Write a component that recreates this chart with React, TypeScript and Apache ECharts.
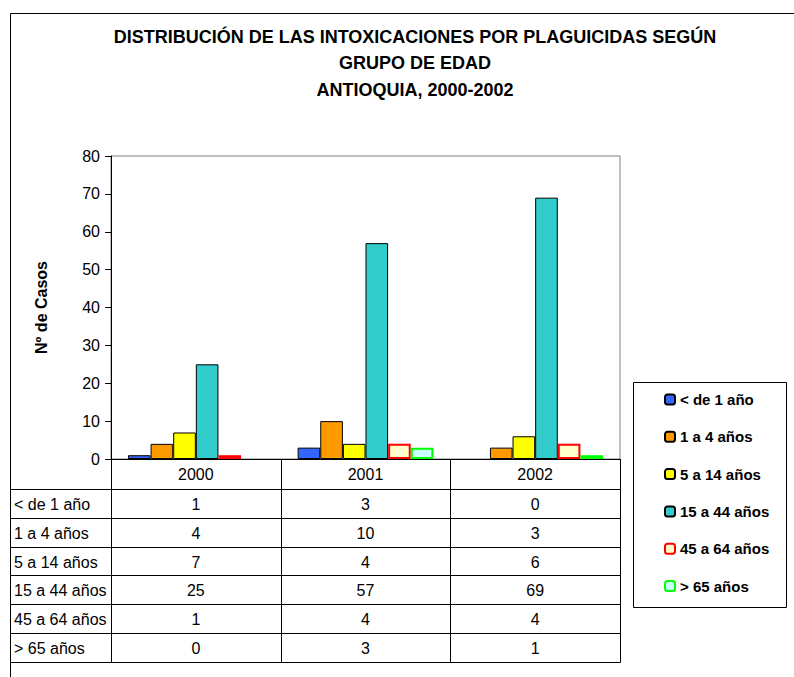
import React, { useEffect, useRef } from 'react';
import * as echarts from 'echarts';

// ---- data ----
const years = ['2000', '2001', '2002'];
const groupNames = ['< de 1 año', '1 a 4 años', '5 a 14 años', '15 a 44 años', '45 a 64 años', '> 65 años'];
const menosDe1 = [1, 3, 0];
const de1a4 = [4, 10, 3];
const de5a14 = [7, 4, 6];
const de15a44 = [25, 57, 69];
const de45a64 = [1, 4, 4];
const mayor65 = [0, 3, 1];
const yMin = 0;
const yMax = 80;
const yInterval = 10;
const titleLines = ['DISTRIBUCIÓN DE LAS INTOXICACIONES POR PLAGUICIDAS SEGÚN', 'GRUPO DE EDAD', 'ANTIOQUIA, 2000-2002'];
const yAxisTitle = 'Nº de Casos';

const seriesValues = [menosDe1, de1a4, de5a14, de15a44, de45a64, mayor65];

// ---- styles ----
const seriesStyles = [
  { color: '#3366FF', borderColor: '#000000', borderWidth: 1 },
  { color: '#FF9900', borderColor: '#000000', borderWidth: 1 },
  { color: '#FFFF00', borderColor: '#000000', borderWidth: 1 },
  { color: '#33CCCC', borderColor: '#000000', borderWidth: 1 },
  { color: '#FFFFCC', borderColor: '#FF0000', borderWidth: 2 },
  { color: '#CCFFFF', borderColor: '#00FF00', borderWidth: 2 },
];

const FONT = '"Liberation Sans", Arial, sans-serif';
const W = 794;
const H = 677;
const gridLeft = 111;
const gridTop = 156;
const gridRight = 620;
const gridBottom = 459;
const tableLeft = 10.5;
const headerBottom = 489;
const rowH = 28.8;

export default function App() {
  const ref = useRef<HTMLDivElement>(null);

  useEffect(() => {
    if (!ref.current) return;
    const chart = echarts.init(ref.current, undefined, { renderer: 'svg', width: W, height: H });

    const plotW = gridRight - gridLeft;
    const catW = plotW / years.length;
    const tableBottom = headerBottom + rowH * groupNames.length;

    const graphics: any[] = [];
    // outer frame (left + top visible)
    graphics.push({ type: 'line', shape: { x1: tableLeft, y1: 13.5, x2: W + 5, y2: 13.5 }, style: { stroke: '#000', lineWidth: 1 }, z: 0 });
    graphics.push({ type: 'line', shape: { x1: tableLeft, y1: 13.5, x2: tableLeft, y2: H + 5 }, style: { stroke: '#000', lineWidth: 1 }, z: 0 });

    // title
    graphics.push({
      type: 'text',
      x: 415,
      y: 23.5,
      style: {
        text: titleLines.join('\n'),
        fontSize: 18,
        fontWeight: 'bold',
        fontFamily: FONT,
        fill: '#000',
        align: 'center',
        verticalAlign: 'top',
        lineHeight: 26.5,
      },
    });

    // table horizontal lines
    for (let i = 0; i <= groupNames.length; i++) {
      const y = Math.round(headerBottom + i * rowH) + 0.5;
      graphics.push({ type: 'line', shape: { x1: tableLeft, y1: y, x2: gridRight + 0.5, y2: y }, style: { stroke: '#000', lineWidth: 1 } });
    }
    // table vertical lines
    graphics.push({ type: 'line', shape: { x1: gridLeft + 0.5, y1: gridBottom, x2: gridLeft + 0.5, y2: Math.round(tableBottom) + 0.5 }, style: { stroke: '#000', lineWidth: 1 } });
    for (let c = 1; c <= years.length; c++) {
      const x = Math.round(gridLeft + c * catW) + 0.5;
      graphics.push({ type: 'line', shape: { x1: x, y1: gridBottom, x2: x, y2: Math.round(tableBottom) + 0.5 }, style: { stroke: '#000', lineWidth: 1 } });
    }
    // table texts
    groupNames.forEach((g, r) => {
      const cy = headerBottom + (r + 0.5) * rowH + 1;
      graphics.push({
        type: 'text', x: 14, y: cy,
        style: { text: g, fontSize: 16, fontFamily: FONT, fill: '#000', align: 'left', verticalAlign: 'middle' },
      });
      seriesValues[r].forEach((v, c) => {
        graphics.push({
          type: 'text', x: gridLeft + (c + 0.5) * catW, y: cy,
          style: { text: String(v), fontSize: 16, fontFamily: FONT, fill: '#000', align: 'center', verticalAlign: 'middle' },
        });
      });
    });

    // legend box
    graphics.push({ type: 'rect', shape: { x: 633.5, y: 382.5, width: 153, height: 225 }, style: { fill: '#fff', stroke: '#000', lineWidth: 1 }, z: -1 });

    const option: any = {
      animation: false,
      backgroundColor: '#ffffff',
      textStyle: { fontFamily: FONT },
      grid: {
        left: gridLeft,
        top: gridTop,
        width: plotW,
        height: gridBottom - gridTop,
        show: true,
        borderColor: '#808080',
        borderWidth: 1,
        backgroundColor: 'transparent',
      },
      legend: {
        orient: 'vertical',
        left: 659,
        top: 387,
        itemWidth: 10,
        itemHeight: 10,
        itemGap: 22.3,
        data: groupNames,
        textStyle: { fontSize: 15, fontWeight: 'bold', color: '#000', fontFamily: FONT, lineHeight: 15 },
      },
      xAxis: {
        type: 'category',
        data: years,
        axisLine: { lineStyle: { color: '#000', width: 1 } },
        axisTick: { show: false },
        axisLabel: { fontSize: 16, color: '#000', margin: 7, fontFamily: FONT },
        splitLine: { show: false },
      },
      yAxis: {
        type: 'value',
        min: yMin,
        max: yMax,
        interval: yInterval,
        name: yAxisTitle,
        nameLocation: 'middle',
        nameGap: 62,
        nameTextStyle: { fontSize: 16, fontWeight: 'bold', color: '#000', fontFamily: FONT },
        axisLine: { show: true, lineStyle: { color: '#000', width: 1 } },
        axisTick: { show: true, length: 6, lineStyle: { color: '#000' } },
        axisLabel: { fontSize: 16, color: '#000', margin: 11, fontFamily: FONT },
        splitLine: { show: false },
      },
      series: groupNames.map((name, i) => ({
        name,
        type: 'bar',
        data: seriesValues[i].map((v) => (v === 0 ? { value: v, itemStyle: { borderWidth: 0 } } : v)),
        barGap: '0%',
        barCategoryGap: '20%',
        itemStyle: seriesStyles[i],
      })),
      graphic: { elements: graphics },
    };

    chart.setOption(option);
    return () => chart.dispose();
  }, []);

  return (
    <div
      ref={ref}
      style={{ position: 'fixed', left: 0, top: 0, width: W, height: H, background: '#fff' }}
    />
  );
}
